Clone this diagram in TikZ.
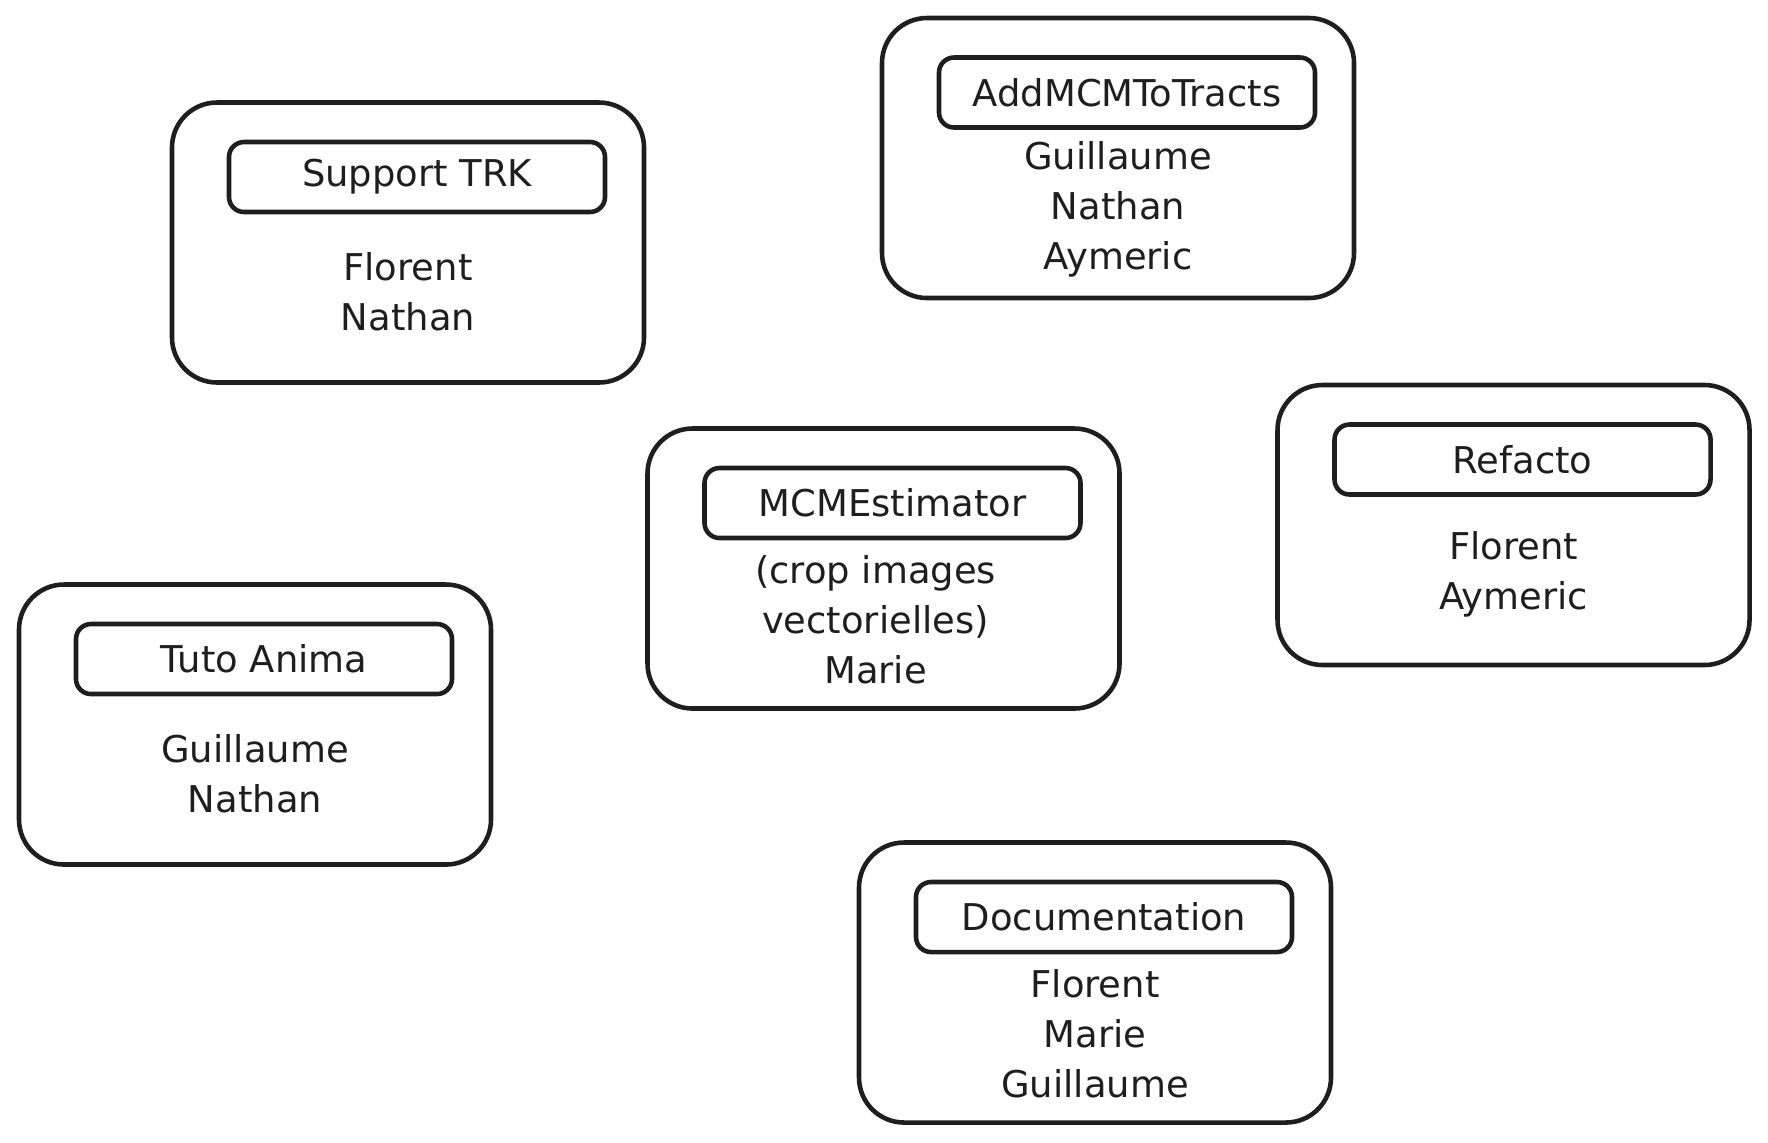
\documentclass[tikz,border=0pt]{standalone}
\usepackage{fontspec}
\setmainfont{DejaVu Sans}
\usetikzlibrary{positioning}
\definecolor{ink}{HTML}{1E1E1E}

\begin{document}
\begin{tikzpicture}[
    every node/.style={font=\fontsize{10.5}{14.2}\selectfont, text=ink},
    task/.style={draw=ink, line width=1.3pt, rounded corners=0.45cm,
      minimum width=4.72cm, minimum height=2.8cm},
    tasktitle/.style={draw=ink, line width=1.3pt, rounded corners=0.15cm,
      minimum width=3.76cm, minimum height=0.7cm, inner sep=0pt},
    people/.style={align=center, inner sep=0pt}]
    \useasboundingbox (0,0) rectangle (17.68,-11.42);
    % outer boxes
    \node[task] (trk) at (4.08,-2.425) {};
    \node[task] (addmcm) at (11.18,-1.58) {};
    \node[task] (mcm) at (8.835,-5.685) {};
    \node[task] (refacto) at (15.135,-5.25) {};
    \node[task] (tuto) at (2.55,-7.245) {};
    \node[task] (doc) at (10.95,-9.825) {};
    % titles
    \node[tasktitle, below=0.395cm of trk.north, xshift=0.09cm] (trktitle) {Support TRK};
    \node[tasktitle, below=0.395cm of addmcm.north, xshift=0.09cm] (addmcmtitle) {AddMCMToTracts};
    \node[tasktitle, below=0.395cm of mcm.north, xshift=0.09cm] (mcmtitle) {MCMEstimator};
    \node[tasktitle, below=0.395cm of refacto.north, xshift=0.09cm] (refactotitle) {Refacto};
    \node[tasktitle, below=0.395cm of tuto.north, xshift=0.09cm] (tutotitle) {Tuto Anima};
    \node[tasktitle, below=0.395cm of doc.north, xshift=0.09cm] (doctitle) {Documentation};
    % people
    \node[people] (trkpeople) at ([yshift=-0.49cm]trk.center) {Florent\\Nathan};
    \node[people] (addmcmpeople) at ([yshift=-0.51cm]addmcm.center) {Guillaume\\Nathan\\Aymeric};
    \node[people] (mcmpeople) at ([xshift=-0.08cm,yshift=-0.51cm]mcm.center) {(crop images\\vectorielles)\\Marie};
    \node[people] (refactopeople) at ([yshift=-0.49cm]refacto.center) {Florent\\Aymeric};
    \node[people] (tutopeople) at ([yshift=-0.49cm]tuto.center) {Guillaume\\Nathan};
    \node[people] (docpeople) at ([yshift=-0.51cm]doc.center) {Florent\\Marie\\Guillaume};
\end{tikzpicture}
\end{document}
